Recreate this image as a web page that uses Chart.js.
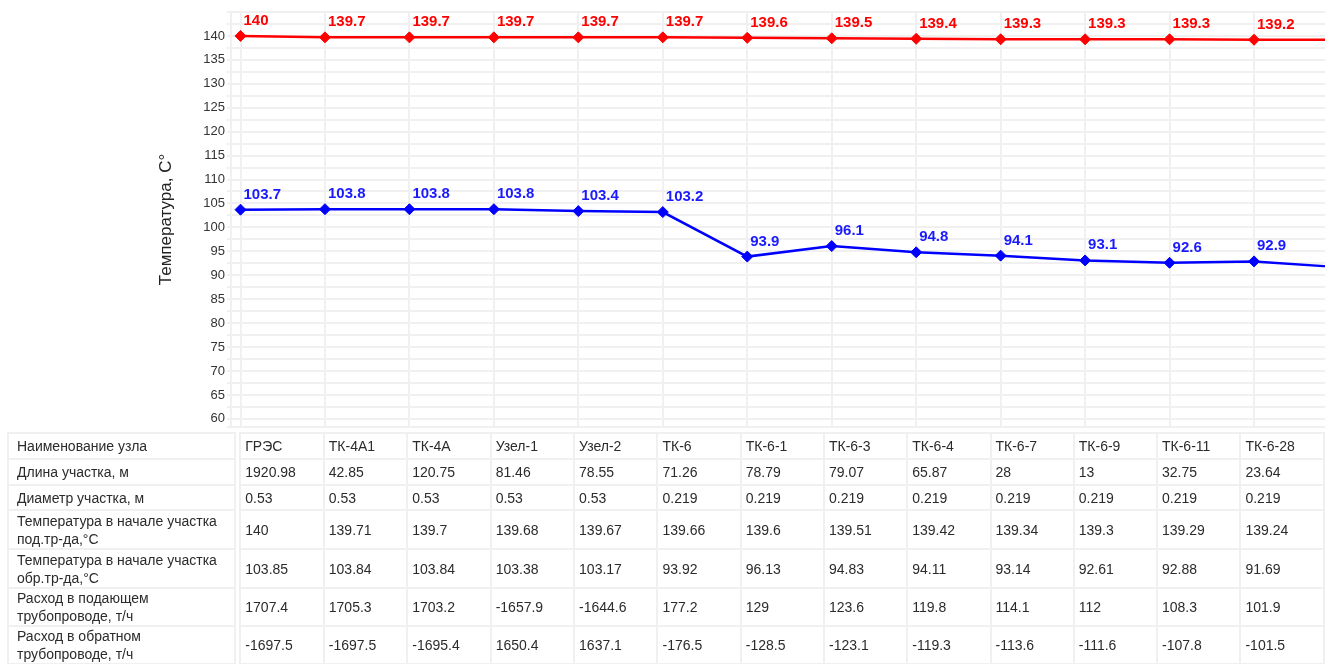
<!DOCTYPE html>
<html>
<head>
<meta charset="utf-8">
<script src="https://cdn.jsdelivr.net/npm/chart.js@4/dist/chart.umd.min.js"></script>
<style>
  html, body { margin: 0; padding: 0; background: #fff; overflow: hidden; }
  #wrap { position: absolute; left: 0; top: 0; width: 1325px; height: 664px; overflow: hidden; }
  #c { position: absolute; left: 0; top: 0; }
  #tbl { position: absolute; left: 7px; top: 432px; border-collapse: collapse; table-layout: fixed;
         font-family: "Liberation Sans", Arial, sans-serif; font-size: 14px; color: #2b2b2b; }
  #tbl td { border: 2px solid #f0f0f0; padding: 0 0 0 4px; vertical-align: middle; white-space: nowrap;
            line-height: 18px; overflow: hidden; }
  #tbl td.lab { padding-left: 8px; }
  #tbl td.sp { border: none; padding: 0; }
</style>
</head>
<body>
<div id="wrap">
  <canvas id="c" width="1345" height="440"></canvas>
  <table id="tbl"></table>
</div>
<script>
// ---- data ----
const nodes = ["ГРЭС", "ТК-4А1", "ТК-4А", "Узел-1", "Узел-2", "ТК-6", "ТК-6-1", "ТК-6-3", "ТК-6-4", "ТК-6-7", "ТК-6-9", "ТК-6-11", "ТК-6-28"];
const supplyLine = [140, 139.7, 139.7, 139.7, 139.7, 139.7, 139.6, 139.5, 139.4, 139.3, 139.3, 139.3, 139.2, 139.2];
const returnLine = [103.7, 103.8, 103.8, 103.8, 103.4, 103.2, 93.9, 96.1, 94.8, 94.1, 93.1, 92.6, 92.9, 91.7];
const yTicks = [60, 65, 70, 75, 80, 85, 90, 95, 100, 105, 110, 115, 120, 125, 130, 135, 140];
const yGrid = [58.3, 60, 62.5, 65, 67.5, 70, 72.5, 75, 77.5, 80, 82.5, 85, 87.5, 90, 92.5, 95, 97.5, 100,
               102.5, 105, 107.5, 110, 112.5, 115, 117.5, 120, 122.5, 125, 127.5, 130, 132.5, 135, 137.5, 140, 142.5, 145];
const yTitle = "Температура, C°";

const rowLabels = ["Наименование узла", "Длина участка, м", "Диаметр участка, м",
  "Температура в начале участка<br>под.тр-да,°C", "Температура в начале участка<br>обр.тр-да,°C",
  "Расход в подающем<br>трубопроводе, т/ч", "Расход в обратном<br>трубопроводе, т/ч"];
const lengths = [1920.98, 42.85, 120.75, 81.46, 78.55, 71.26, 78.79, 79.07, 65.87, 28, 13, 32.75, 23.64];
const diameters = [0.53, 0.53, 0.53, 0.53, 0.53, 0.219, 0.219, 0.219, 0.219, 0.219, 0.219, 0.219, 0.219];
const supplyT = [140, 139.71, 139.7, 139.68, 139.67, 139.66, 139.6, 139.51, 139.42, 139.34, 139.3, 139.29, 139.24];
const returnT = [103.85, 103.84, 103.84, 103.38, 103.17, 93.92, 96.13, 94.83, 94.11, 93.14, 92.61, 92.88, 91.69];
const supplyFlow = [1707.4, 1705.3, 1703.2, -1657.9, -1644.6, 177.2, 129, 123.6, 119.8, 114.1, 112, 108.3, 101.9];
const returnFlow = [-1697.5, -1697.5, -1695.4, 1650.4, 1637.1, -176.5, -128.5, -123.1, -119.3, -113.6, -111.6, -107.8, -101.5];

// ---- table ----
const rows = [nodes, lengths, diameters, supplyT, returnT, supplyFlow, returnFlow];
const rowHeights = [26, 26, 25, 39, 39, 38, 38];
let html = '<colgroup><col style="width:228px"><col style="width:5px">';
for (let i = 0; i < nodes.length; i++) html += '<col style="width:84.46px">';
html += '</colgroup>';
rows.forEach((r, ri) => {
  html += '<tr style="height:' + rowHeights[ri] + 'px"><td class="lab">' + rowLabels[ri] + '</td><td class="sp"></td>';
  r.forEach(v => { html += '<td>' + v + '</td>'; });
  html += '</tr>';
});
document.getElementById('tbl').innerHTML = html;

// ---- chart ----
const FONT = '"Liberation Sans", Arial, sans-serif';
const COL_W = 84.46;       // pixel width of one node column
const X_MIN = -0.1125;     // small gap between axis and first node
const toPts = arr => arr.map((v, i) => ({ x: i, y: v }));

const labelPlugin = {
  id: 'pointLabels',
  afterDatasetsDraw(chart) {
    const ctx = chart.ctx;
    chart.data.datasets.forEach((ds, di) => {
      const meta = chart.getDatasetMeta(di);
      meta.data.forEach((pt, i) => {
        if (i >= nodes.length) return;
        ctx.save();
        ctx.font = 'bold 15px ' + FONT;
        ctx.fillStyle = ds.labelColor;
        ctx.textAlign = 'left';
        ctx.textBaseline = 'alphabetic';
        ctx.fillText(String(ds.data[i].y), pt.x + 3, pt.y - 11);
        ctx.restore();
      });
    });
  }
};

new Chart(document.getElementById('c'), {
  type: 'line',
  data: {
    datasets: [
      { data: toPts(supplyLine), borderColor: '#ff0000', backgroundColor: '#ff0000', labelColor: '#ff0000',
        borderWidth: 2.5, pointStyle: 'rectRot', pointRadius: 5.5, pointBorderWidth: 1, tension: 0 },
      { data: toPts(returnLine), borderColor: '#0000ff', backgroundColor: '#0000ff', labelColor: '#1a1aff',
        borderWidth: 2.5, pointStyle: 'rectRot', pointRadius: 5.5, pointBorderWidth: 1, tension: 0 }
    ]
  },
  options: {
    responsive: false,
    animation: false,
    layout: { padding: { left: 154, top: 12, right: 0, bottom: 0 } },
    plugins: { legend: { display: false }, tooltip: { enabled: false } },
    scales: {
      x: {
        type: 'linear',
        bounds: 'data',
        min: X_MIN,
        afterDataLimits(scale) { scale.min = X_MIN; scale.max = X_MIN + scale.width / COL_W; },
        afterBuildTicks(scale) { scale.ticks = [{ value: X_MIN }].concat(nodes.map((n, i) => ({ value: i }))); },
        ticks: { display: false },
        grid: { color: '#f0f0f0', lineWidth: 2, drawTicks: false },
        border: { display: true, color: '#f0f0f0', width: 2 },
        afterFit(scale) { scale.height = 13; }
      },
      y: {
        min: 58.3,
        max: 145,
        afterBuildTicks(scale) { scale.ticks = yGrid.map(v => ({ value: v })); },
        ticks: {
          padding: 2,
          color: '#333',
          font: { family: FONT, size: 13 },
          autoSkip: false,
          callback: v => (yTicks.includes(v) ? String(v) : '')
        },
        grid: { color: '#f0f0f0', lineWidth: 2, tickLength: 4 },
        border: { display: true, color: '#f0f0f0', width: 2 },
        title: { display: true, text: yTitle, color: '#222', font: { family: FONT, size: 17 }, padding: { top: 2, bottom: 2 } },
        afterFit(scale) { scale.width = 77; }
      }
    }
  },
  plugins: [labelPlugin]
});
</script>
</body>
</html>
